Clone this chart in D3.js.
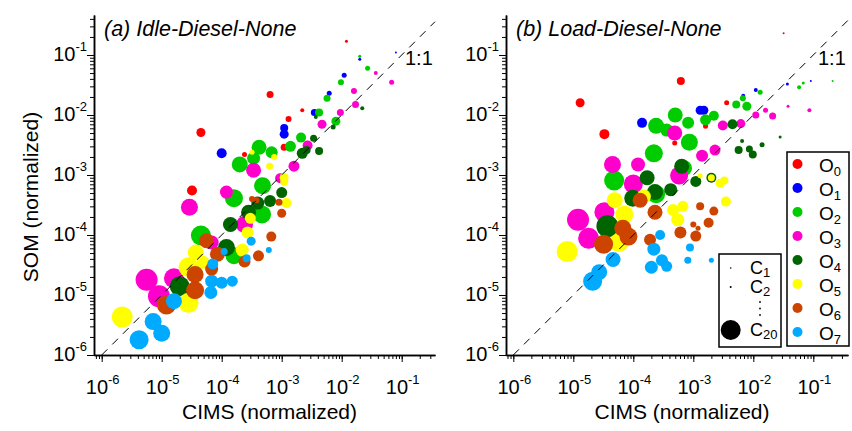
<!DOCTYPE html>
<html>
<head>
<meta charset="utf-8">
<script src="https://cdn.jsdelivr.net/npm/d3@7"></script>
<style>
  body { margin: 0; background: #fff; }
  text { font-family: "Liberation Sans", Arial, Helvetica, sans-serif; fill: #000; }
</style>
</head>
<body>
<svg id="chart" width="852" height="431"></svg>
<script>
// oxygen groups and their colours
var oxygenNames = ["0", "1", "2", "3", "4", "5", "6", "7"];
var oxygenColors = ["#ff0000", "#0000ff", "#00cc00", "#ff00cc", "#006400", "#ffff00", "#cc4400", "#00aaff"];

// labelled decades on both axes
var decades = [1e-6, 1e-5, 1e-4, 1e-3, 1e-2, 1e-1];
var decadeExps = ["-6", "-5", "-4", "-3", "-2", "-1"];

// carbon-number size key
var carbonKey = [1, 2, 20];

// rows: [CIMS, SOM, O number, C number]
var idleDiesel = [
  [4.5e-5, 5.1e-3, 0, 9], [6.4e-4, 2.2e-2, 0, 7], [2.2e-3, 1.2e-2, 0, 4], [1.3e-3, 8.6e-3, 0, 6],
  [2.4e-4, 2.2e-3, 0, 5], [3.2e-5, 5.5e-4, 0, 10], [1.1e-3, 2.9e-3, 0, 7], [1.2e-2, 0.17, 0, 3],
  [1.0e-4, 2.3e-3, 1, 10], [1.1e-3, 6.1e-3, 1, 8], [1.1e-3, 4.8e-3, 1, 9], [3.5e-3, 1.1e-2, 1, 7],
  [6.2e-3, 2.3e-2, 1, 5], [1.1e-2, 4.6e-2, 1, 5], [2.0e-2, 8.5e-2, 1, 3], [8.0e-2, 0.11, 1, 2],
  [4.2e-4, 2.9e-3, 2, 15], [2.0e-4, 1.5e-3, 2, 16], [3.4e-4, 1.9e-3, 2, 13], [6.8e-4, 2.4e-3, 2, 12],
  [1.4e-3, 3.0e-3, 2, 11], [2.1e-3, 4.2e-3, 2, 10], [4.2e-3, 1.1e-2, 2, 8], [8.0e-3, 7.9e-3, 2, 9],
  [5.7e-3, 1.9e-2, 2, 7], [9.7e-3, 3.5e-2, 2, 6], [2.0e-2, 9.5e-2, 2, 3], [2.7e-2, 6.0e-2, 2, 5],
  [1.6e-4, 4.1e-4, 2, 18], [4.8e-4, 6.6e-4, 2, 17], [4.7e-4, 2.2e-4, 2, 18], [4.5e-5, 9.8e-5, 2, 20],
  [1.6e-4, 4.5e-5, 2, 17],
  [3.4e-4, 1.2e-3, 3, 15], [1.6e-3, 1.4e-3, 3, 11], [2.7e-3, 3.1e-3, 3, 10], [4.7e-3, 7.0e-3, 3, 9],
  [9.5e-3, 1.1e-2, 3, 7], [1.6e-2, 2.5e-2, 3, 6], [1.7e-2, 1.5e-2, 3, 7], [3.7e-2, 5.0e-2, 3, 4],
  [6.8e-2, 3.5e-2, 3, 5], [1.2e-4, 5.2e-4, 3, 13], [2.9e-5, 2.9e-4, 3, 17], [9.4e-4, 8.8e-4, 3, 10],
  [2.4e-4, 1.5e-4, 3, 17], [5.6e-6, 1.8e-5, 3, 22], [9.0e-6, 9.5e-6, 3, 22], [1.6e-5, 1.9e-5, 3, 20],
  [6.8e-5, 7.5e-5, 3, 14],
  [2.2e-3, 2.3e-3, 4, 11], [2.6e-3, 2.6e-3, 4, 8], [3.4e-3, 4.1e-3, 4, 7], [4.2e-3, 2.5e-3, 4, 8],
  [3.7e-3, 9.3e-3, 4, 4], [7.2e-3, 6.3e-3, 4, 5], [2.2e-2, 1.3e-2, 4, 4], [1.0e-3, 5.1e-4, 4, 11],
  [6.4e-4, 3.7e-4, 4, 12], [4.0e-4, 3.4e-4, 4, 13], [2.8e-4, 2.4e-4, 4, 15], [1.4e-4, 1.5e-4, 4, 15],
  [1.2e-4, 6.2e-5, 4, 17], [2.0e-5, 1.4e-5, 4, 20],
  [3.2e-4, 2.4e-3, 5, 5], [7.5e-4, 2.0e-3, 5, 6], [6.3e-4, 1.4e-3, 5, 7], [1.1e-3, 9.1e-4, 5, 9],
  [1.1e-3, 7.7e-4, 5, 8], [1.2e-3, 3.4e-4, 5, 10], [3.0e-4, 1.9e-4, 5, 11], [2.7e-4, 1.1e-4, 5, 12],
  [2.2e-4, 5.6e-5, 5, 13], [3.7e-5, 5.1e-5, 5, 16], [2.8e-5, 2.9e-5, 5, 20], [2.8e-5, 7.4e-6, 5, 20],
  [2.2e-6, 4.3e-6, 5, 21], [4.9e-5, 3.5e-5, 5, 13],
  [3.2e-4, 4.0e-4, 6, 6], [3.8e-4, 3.8e-4, 6, 6], [9.0e-4, 3.5e-4, 6, 7], [1.0e-3, 2.3e-4, 6, 9],
  [6.7e-4, 9.4e-5, 6, 10], [4.1e-4, 4.5e-5, 6, 11], [2.4e-4, 3.6e-5, 6, 12], [8.5e-5, 4.8e-5, 6, 15],
  [5.6e-5, 8.0e-5, 6, 15], [6.8e-5, 2.7e-5, 6, 13], [3.6e-5, 2.2e-5, 6, 17], [3.6e-5, 1.2e-5, 6, 18],
  [1.2e-5, 6.8e-6, 6, 19],
  [3.1e-4, 7.9e-5, 7, 9], [6.1e-4, 5.6e-5, 7, 6], [2.6e-4, 4.1e-5, 7, 8], [1.1e-4, 5.3e-5, 7, 7],
  [7.1e-5, 3.3e-5, 7, 11], [6.8e-5, 1.7e-5, 7, 13], [1.0e-4, 1.6e-5, 7, 12], [1.5e-4, 1.7e-5, 7, 11],
  [6.6e-5, 1.1e-5, 7, 13], [1.6e-5, 7.9e-6, 7, 16], [7.2e-6, 3.6e-6, 7, 17], [1.0e-5, 2.3e-6, 7, 17],
  [4.2e-6, 1.8e-6, 7, 19]
];

var loadDiesel = [
  [3.2e-2, 0.23, 0, 2], [6.2e-4, 3.7e-2, 0, 8], [1.3e-5, 1.6e-2, 0, 9], [3.3e-5, 4.8e-3, 0, 10],
  [3.6e-3, 1.6e-2, 0, 5], [1.6e-3, 6.5e-3, 0, 5], [4.9e-4, 3.4e-3, 0, 5],
  [1.4e-4, 7.4e-3, 1, 10], [1.3e-3, 1.2e-2, 1, 9], [1.5e-3, 1.2e-2, 1, 9], [6.8e-3, 2.1e-2, 1, 4],
  [1.1e-2, 2.6e-2, 1, 4], [3.7e-2, 3.3e-2, 1, 3], [9.1e-2, 3.7e-2, 1, 2],
  [5.0e-4, 1.0e-2, 2, 15], [2.4e-4, 6.6e-3, 2, 16], [3.6e-4, 5.6e-3, 2, 13], [8.2e-4, 7.4e-3, 2, 12],
  [8.6e-4, 3.5e-3, 2, 17], [1.6e-3, 8.3e-3, 2, 11], [2.2e-3, 9.7e-3, 2, 10], [5.2e-3, 1.5e-2, 2, 8],
  [7.8e-3, 1.4e-2, 2, 9], [6.7e-3, 1.9e-2, 2, 6], [1.3e-2, 2.4e-2, 2, 5], [5.8e-2, 2.9e-2, 2, 4],
  [6.8e-2, 3.4e-2, 2, 3], [0.21, 3.7e-2, 2, 2], [2.2e-4, 2.3e-3, 2, 18], [4.8e-5, 8.1e-4, 2, 20],
  [2.4e-4, 4.8e-4, 2, 18], [7.0e-4, 1.3e-3, 2, 16],
  [4.9e-4, 5.0e-3, 3, 15], [3.1e-3, 6.7e-3, 3, 10], [6.2e-3, 7.2e-3, 3, 9], [1.1e-2, 1.0e-2, 3, 7],
  [1.6e-2, 1.2e-2, 3, 5], [2.1e-2, 9.6e-3, 3, 7], [3.8e-2, 1.4e-2, 3, 3], [8.6e-2, 1.2e-2, 3, 4],
  [1.4e-3, 2.1e-3, 3, 12], [2.3e-3, 2.6e-3, 3, 11], [4.5e-5, 1.5e-3, 3, 17], [1.2e-4, 1.5e-3, 3, 14],
  [1.0e-4, 7.1e-4, 3, 19], [5.8e-4, 9.8e-4, 3, 18], [3.3e-5, 2.4e-4, 3, 20], [1.2e-5, 1.8e-4, 3, 22],
  [1.8e-5, 8.8e-5, 3, 21],
  [4.5e-3, 7.0e-3, 4, 10], [6.5e-3, 3.7e-3, 4, 4], [1.4e-2, 3.2e-3, 4, 5], [2.8e-2, 4.3e-3, 4, 3],
  [5.7e-3, 2.6e-3, 4, 8], [8.6e-3, 2.7e-3, 4, 7], [9.8e-3, 2.2e-3, 4, 8], [6.4e-4, 1.4e-3, 4, 15],
  [1.1e-3, 7.8e-4, 4, 11], [2.0e-3, 9.0e-4, 4, 10], [1.7e-4, 9.0e-4, 4, 15], [4.2e-4, 5.7e-4, 4, 13],
  [2.3e-4, 5.2e-4, 4, 16], [9.8e-5, 4.1e-4, 4, 17], [3.7e-5, 1.4e-4, 4, 22],
  [1.3e-3, 9.7e-4, 5, 5], [2.0e-3, 9.0e-4, 5, 7], [2.8e-3, 7.3e-4, 5, 9], [3.3e-3, 8.1e-4, 5, 8],
  [3.5e-3, 3.6e-4, 5, 10], [1.5e-4, 4.4e-4, 5, 14], [4.9e-5, 3.8e-4, 5, 16], [7.1e-5, 2.2e-4, 5, 18],
  [5.8e-5, 7.5e-5, 5, 19], [7.9e-6, 5.3e-5, 5, 21], [4.6e-4, 2.6e-4, 5, 12], [6.7e-4, 3.0e-4, 5, 11],
  [5.5e-4, 1.8e-4, 5, 13],
  [1.3e-4, 3.8e-4, 6, 15], [6.7e-5, 1.3e-4, 6, 17], [8.3e-5, 9.4e-5, 6, 18], [3.2e-5, 7.0e-5, 6, 19],
  [2.3e-4, 2.4e-4, 6, 15], [1.9e-4, 8.3e-5, 6, 12], [1.3e-3, 3.0e-4, 6, 8], [2.2e-3, 2.5e-4, 6, 9],
  [1.0e-3, 1.5e-4, 6, 6], [1.2e-3, 1.3e-4, 6, 5], [1.8e-3, 1.6e-4, 6, 10], [6.1e-4, 1.1e-4, 6, 12],
  [1.1e-3, 9.6e-5, 6, 11],
  [2.8e-4, 1.0e-4, 7, 10], [2.2e-4, 5.8e-5, 7, 13], [8.8e-4, 6.2e-5, 7, 8], [3.0e-4, 3.8e-5, 7, 12],
  [3.6e-4, 3.0e-5, 7, 11], [2.0e-4, 2.9e-5, 7, 13], [8.1e-4, 3.8e-5, 7, 7], [2.0e-3, 3.8e-5, 7, 5],
  [4.6e-5, 3.9e-5, 7, 15], [2.7e-5, 2.4e-5, 7, 16], [2.1e-5, 1.7e-5, 7, 19]
];

var svg = d3.select("#chart");
var radius = d3.scaleLinear().domain([0, 20]).range([0, 10]);

var panels = [
  { title: "(a) Idle-Diesel-None", data: idleDiesel, left: 94, right: 435, at1e6: 101.7, yTitle: true },
  { title: "(b) Load-Diesel-None", data: loadDiesel, left: 506, right: 848, at1e6: 513.3, yTitle: false }
];

// all the 1..9 x 10^n minor ticks inside a domain
function logTicks(scale) {
  var d = scale.domain(), out = [];
  for (var e = -7; e <= 0; e++)
    for (var m = 1; m <= 9; m++) {
      var v = m * Math.pow(10, e);
      if (v >= d[0] * 0.9999 && v <= d[1]) out.push(v);
    }
  return out;
}

function drawPanel(p) {
  var x = d3.scaleLog().domain([1e-6, 1]).range([p.at1e6, p.at1e6 + 360]);
  x.domain([x.invert(p.left), x.invert(p.right)]).range([p.left, p.right]);
  var y = d3.scaleLog().domain([1e-6, 1]).range([355, -5]);
  y.domain([1e-6, y.invert(15)]).range([355, 15]);

  var g = svg.append("g");

  // points: by oxygen number, larger ones first
  var rows = p.data.slice().sort(function (a, b) { return a[2] - b[2] || b[3] - a[3]; });
  g.append("g").selectAll("circle").data(rows).enter().append("circle")
    .attr("cx", function (d) { return x(d[0]); })
    .attr("cy", function (d) { return y(d[1]); })
    .attr("r", function (d) { return radius(d[3]); })
    .attr("fill", function (d) { return oxygenColors[d[2]]; });

  // 1:1 line
  var lo = 1e-6, hi = Math.min(x.domain()[1], y.domain()[1]);
  g.append("line")
    .attr("x1", x(lo)).attr("y1", y(lo)).attr("x2", x(hi)).attr("y2", y(hi))
    .attr("stroke", "#000").attr("stroke-width", 1).attr("stroke-dasharray", "8,7");
  g.append("text").attr("x", p.right - 30).attr("y", 65).attr("font-size", 20).text("1:1");

  // axes: minor then major ticks
  g.append("g").attr("transform", "translate(0,355)")
    .call(d3.axisBottom(x).tickValues(logTicks(x)).tickSize(4).tickSizeOuter(0).tickFormat(""));
  g.append("g").attr("transform", "translate(0,355)")
    .call(d3.axisBottom(x).tickValues(decades).tickSize(7).tickSizeOuter(0).tickFormat(""));
  g.append("g").attr("transform", "translate(" + p.left + ",0)")
    .call(d3.axisLeft(y).tickValues(logTicks(y)).tickSize(4).tickSizeOuter(0).tickFormat(""));
  g.append("g").attr("transform", "translate(" + p.left + ",0)")
    .call(d3.axisLeft(y).tickValues(decades).tickSize(7).tickSizeOuter(0).tickFormat(""));
  g.selectAll(".domain").attr("stroke-width", 1.5);
  g.selectAll(".tick line").attr("stroke-width", 1);

  // decade labels as 10 with a superscript
  decades.forEach(function (v, i) {
    var tx = g.append("text").attr("x", x(v) + 1).attr("y", 394)
      .attr("text-anchor", "middle").attr("font-size", 20).text("10");
    tx.append("tspan").attr("dy", -10).attr("font-size", 13).text(decadeExps[i]);
    var ty = g.append("text").attr("x", p.left - 7).attr("y", y(v) + 6)
      .attr("text-anchor", "end").attr("font-size", 20).text("10");
    ty.append("tspan").attr("dy", -10).attr("font-size", 13).text(decadeExps[i]);
  });

  g.append("text").attr("x", p.left + 10).attr("y", 36)
    .attr("font-size", 21.5).attr("font-style", "italic").text(p.title);
  g.append("text").attr("x", (p.left + p.right) / 2 + 5).attr("y", 419)
    .attr("text-anchor", "middle").attr("font-size", 21).text("CIMS (normalized)");
  if (p.yTitle)
    g.append("text").attr("transform", "translate(38,197) rotate(-90)")
      .attr("text-anchor", "middle").attr("font-size", 21).text("SOM (normalized)");
}

panels.forEach(drawPanel);

// oxygen legend
var ol = svg.append("g").attr("transform", "translate(787,152)");
ol.append("rect").attr("width", 62).attr("height", 194)
  .attr("fill", "#fff").attr("stroke", "#000").attr("stroke-width", 1.5);
oxygenNames.forEach(function (n, i) {
  var cy = 12 + i * 24;
  ol.append("circle").attr("cx", 10.5).attr("cy", cy).attr("r", 5).attr("fill", oxygenColors[i]);
  var t = ol.append("text").attr("x", 32).attr("y", cy + 7.5).attr("font-size", 19).text("O");
  t.append("tspan").attr("dy", 4).attr("font-size", 13).text(n);
});

// carbon-number legend
var cl = svg.append("g").attr("transform", "translate(719,254)");
cl.append("rect").attr("width", 62).attr("height", 93)
  .attr("fill", "#fff").attr("stroke", "#000").attr("stroke-width", 1.5);
var keyY = [14, 33, 76];
carbonKey.forEach(function (c, i) {
  cl.append("circle").attr("cx", 11.7).attr("cy", keyY[i]).attr("r", Math.max(radius(c), 0.8)).attr("fill", "#000");
  var t = cl.append("text").attr("x", 31).attr("y", keyY[i] + 6).attr("font-size", 18).text("C");
  t.append("tspan").attr("dy", 3).attr("font-size", 13).text(c);
});
[48, 54.5, 61].forEach(function (dy) {
  cl.append("circle").attr("cx", 41).attr("cy", dy).attr("r", 0.9).attr("fill", "#000");
});
</script>
</body>
</html>
